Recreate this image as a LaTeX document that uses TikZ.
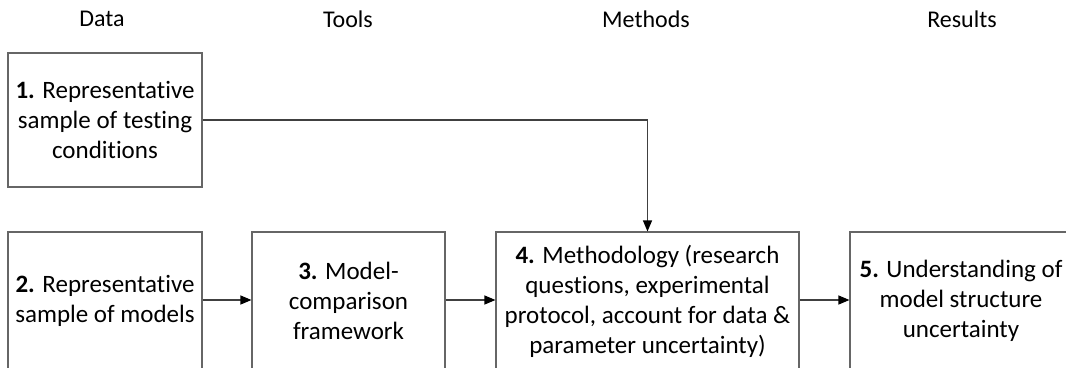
\documentclass[tikz,border=0pt]{standalone}
\usepackage{fontspec}
\setmainfont{Carlito}[Ligatures={NoCommon,NoRare}]
\usetikzlibrary{arrows.meta}
\begin{document}
\begin{tikzpicture}[x=1pt,y=-1pt,
  stage/.style={draw=black!60, line width=1.1pt, inner sep=0pt},
  boxtext/.style={align=center, font=\fontsize{25}{30}\selectfont, inner sep=0pt},
  head/.style={font=\fontsize{24}{30}\selectfont, inner sep=0pt},
  link/.style={draw=black!75, line width=1.1pt, -{Triangle[length=11pt,width=9pt,color=black]}}]
\useasboundingbox (0,0) rectangle (1066,367);
\clip (0,0) rectangle (1066,367);
\fill[white] (0,0) rectangle (1066,367);

% column headings
\node[head] (hdata) at (102,19) {Data};
\node[head] (htools) at (348,19) {Tools};
\node[head] (hmeth) at (646,19) {Methods};
\node[head] (hres) at (962,19) {Results};

% boxes
\node[stage, minimum width=194pt, minimum height=134pt] (b1) at (105,120) {};
\node[boxtext] at (b1) {\textbf{1.} Representative\\sample of testing\\conditions};

\node[stage, minimum width=194pt, minimum height=138pt] (b2) at (105,301) {};
\node[boxtext] at (b2) {\textbf{2.} Representative\\sample of models};

\node[stage, minimum width=193pt, minimum height=138pt] (b3) at (348.5,301) {};
\node[boxtext] at (b3) {\textbf{3.} Model-\\comparison\\framework};

\node[stage, minimum width=303pt, minimum height=138pt] (b4) at (647.5,301) {};
\node[boxtext] at (b4) {\textbf{4.} Methodology (research\\questions, experimental\\protocol, account for data \&\\parameter uncertainty)};

\node[stage, minimum width=222pt, minimum height=138pt] (b5) at (961,301) {};
\node[boxtext] at (b5) {\textbf{5.} Understanding of\\model structure\\uncertainty};

% connectors
\draw[link] (b1.east) -| (b4.north);
\draw[link] (b2.east |- 0,300) -- (b3.west |- 0,300);
\draw[link] (b3.east |- 0,300) -- (b4.west |- 0,300);
\draw[link] (b4.east |- 0,300) -- (b5.west |- 0,300);
\end{tikzpicture}
\end{document}
